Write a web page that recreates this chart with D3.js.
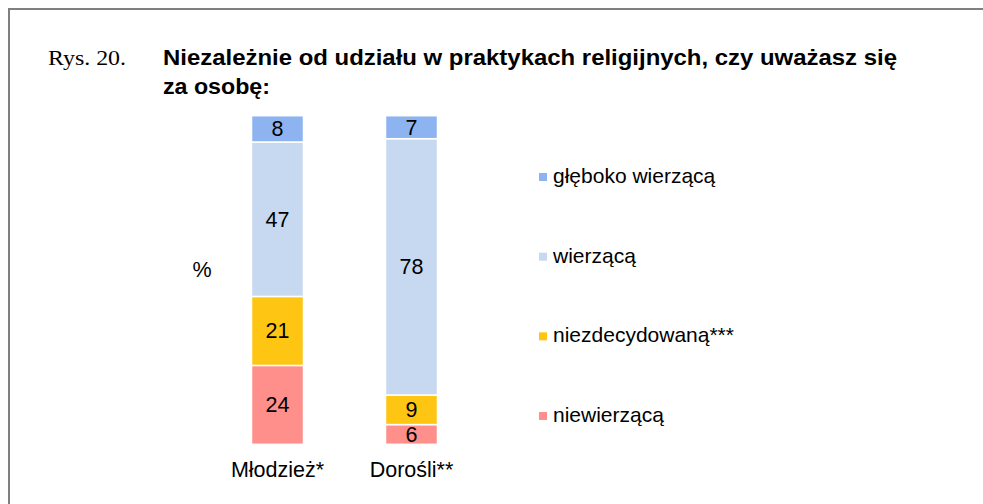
<!DOCTYPE html>
<html lang="pl">
<head>
    <meta charset="UTF-8">
    <script src="https://cdn.jsdelivr.net/npm/d3@7"></script>
    <title>Rys. 20</title>
    <style>
        body { margin: 0; background: #fff; }
        text { font-family: Arial, "Liberation Sans", sans-serif; fill: #000; }
        .serif { font-family: "Times New Roman", "Liberation Serif", serif; }
    </style>
</head>
<body>
<div id="container"></div>
<script>
    // dane
    const categories = ["Młodzież*", "Dorośli**"];
    const seriesNames = ["niewierzącą", "niezdecydowaną***", "wierzącą", "głęboko wierzącą"];
    const niewierzaca = [24, 6];
    const niezdecydowana = [21, 9];
    const wierzaca = [47, 78];
    const gleboko = [8, 7];
    const colors = ["#fe8f8a", "#fec612", "#c6d9f1", "#8db4f0"];

    const width = 983, height = 504;

    const svg = d3.select("#container")
        .append("svg")
        .attr("width", width)
        .attr("height", height);

    svg.append("rect")
        .attr("x", 9).attr("y", 9)
        .attr("width", width + 20).attr("height", height + 20)
        .attr("fill", "none")
        .attr("stroke", "#7f7f7f")
        .attr("stroke-width", 2);

    // tytuł
    svg.append("text")
        .classed("serif", true)
        .attr("x", 48).attr("y", 65)
        .attr("font-size", 22)
        .attr("textLength", 78)
        .attr("lengthAdjust", "spacingAndGlyphs")
        .text("Rys. 20.");

    svg.append("text")
        .attr("x", 163).attr("y", 65)
        .attr("font-size", 22.5)
        .attr("font-weight", "bold")
        .attr("textLength", 734)
        .attr("lengthAdjust", "spacingAndGlyphs")
        .text("Niezależnie od udziału w praktykach religijnych, czy uważasz się");

    svg.append("text")
        .attr("x", 163).attr("y", 94)
        .attr("font-size", 22.5)
        .attr("font-weight", "bold")
        .attr("textLength", 107)
        .attr("lengthAdjust", "spacingAndGlyphs")
        .text("za osobę:");

    // skale
    const xScale = d3.scaleBand()
        .domain(categories)
        .range([210.5, 478.5])
        .paddingInner(0.612)
        .paddingOuter(0.306);

    const yScale = d3.scaleLinear()
        .domain([0, 100])
        .range([444.3, 115.7]);

    const table = categories.map((c, i) => ({
        cat: c,
        "niewierzącą": niewierzaca[i],
        "niezdecydowaną***": niezdecydowana[i],
        "wierzącą": wierzaca[i],
        "głęboko wierzącą": gleboko[i]
    }));

    const stacked = d3.stack().keys(seriesNames)(table);

    const layers = svg.append("g")
        .selectAll("g")
        .data(stacked)
        .join("g")
        .attr("fill", (d, i) => colors[i]);

    layers.selectAll("rect")
        .data(d => d)
        .join("rect")
        .attr("x", d => xScale(d.data.cat))
        .attr("y", d => yScale(d[1]))
        .attr("width", xScale.bandwidth())
        .attr("height", d => yScale(d[0]) - yScale(d[1]))
        .attr("stroke", "#fff")
        .attr("stroke-width", 1.5);

    layers.selectAll("text")
        .data(d => d)
        .join("text")
        .attr("x", d => xScale(d.data.cat) + xScale.bandwidth() / 2)
        .attr("y", d => (yScale(d[0]) + yScale(d[1])) / 2 + 7.5)
        .attr("text-anchor", "middle")
        .attr("font-size", 21.5)
        .text(d => d[1] - d[0]);

    // oś X (etykiety)
    const xAxis = d3.axisBottom(xScale).tickSize(0).tickPadding(0);
    const gx = svg.append("g")
        .attr("transform", "translate(0, 462)")
        .call(xAxis);
    gx.select(".domain").remove();
    gx.selectAll("text")
        .attr("font-size", 21.5)
        .attr("font-family", "Arial, 'Liberation Sans', sans-serif")
        .attr("fill", "#000")
        .attr("dy", 0)
        .attr("y", 15);

    svg.append("text")
        .attr("x", 202).attr("y", 277)
        .attr("text-anchor", "middle")
        .attr("font-size", 21.5)
        .text("%");

    // legenda
    const legendNames = seriesNames.slice().reverse();
    const legendColors = colors.slice().reverse();
    const legendY = d3.scalePoint()
        .domain(legendNames)
        .range([177, 416]);

    const legend = svg.append("g")
        .selectAll("g")
        .data(legendNames)
        .join("g")
        .attr("transform", d => `translate(539, ${legendY(d)})`);

    legend.append("rect")
        .attr("x", 0).attr("y", -4)
        .attr("width", 8).attr("height", 8)
        .attr("fill", (d, i) => legendColors[i]);

    legend.append("text")
        .attr("x", 14).attr("y", 6)
        .attr("font-size", 21)
        .text(d => d);
</script>
</body>
</html>
